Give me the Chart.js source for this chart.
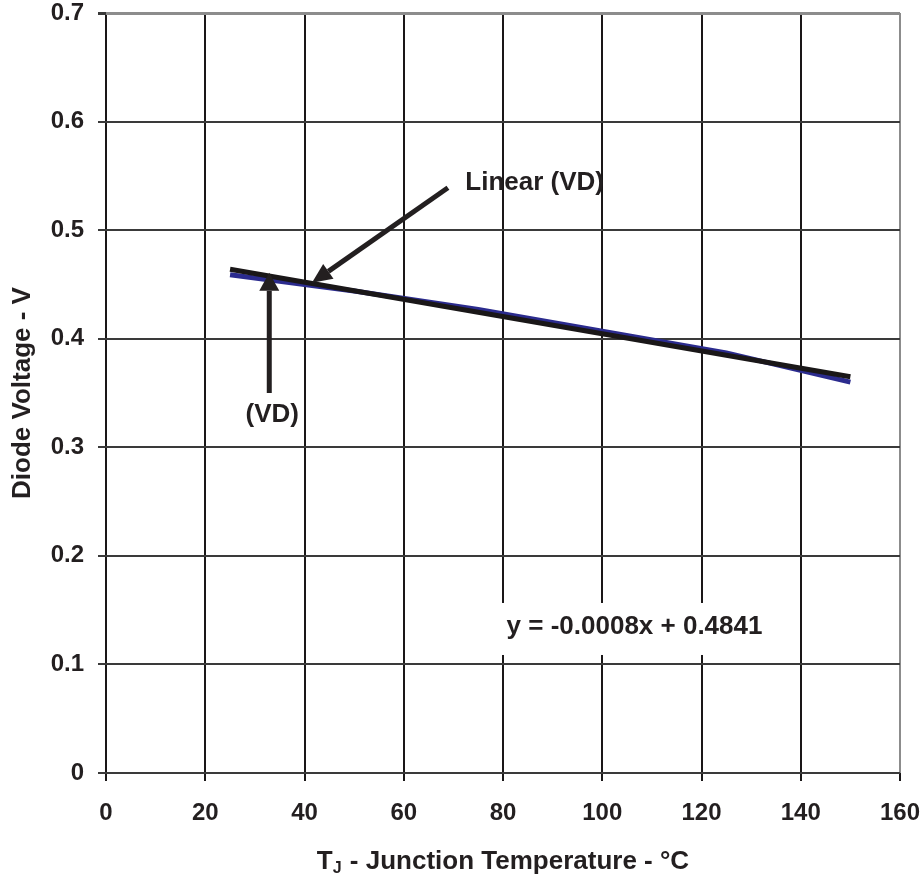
<!DOCTYPE html>
<html>
<head>
<meta charset="utf-8">
<script src="https://cdn.jsdelivr.net/npm/chart.js@4"></script>
<style>
  html, body { margin: 0; padding: 0; background: #fff; }
  #wrap { width: 924px; height: 877px; position: relative; }
</style>
</head>
<body>
<div id="wrap"><canvas id="c" width="924" height="877"></canvas></div>
<script>
// ---- data ----
const temps = [25, 50, 75, 100, 125, 150];
const vdValues = [0.459, 0.444, 0.427, 0.407, 0.387, 0.360];
const linearX = [25, 150];
const linearY = [0.464, 0.365];
const xTickValues = [0, 20, 40, 60, 80, 100, 120, 140, 160];
const yTickLabels = ['0', '0.1', '0.2', '0.3', '0.4', '0.5', '0.6', '0.7'];
const xTitleMain = 'T';
const xTitleSub = 'J';
const xTitleRest = ' - Junction Temperature - °C';
const yTitle = 'Diode Voltage - V';
const equationText = 'y = -0.0008x + 0.4841';
const linearLabel = 'Linear (VD)';
const vdLabel = '(VD)';

// ---- annotation placement (data coordinates) ----
const annot = {
  linArrow: { from: [68.9, 0.539], to: [41.5, 0.4515] },
  linText: [72.4, 0.5436],
  vdArrow: { from: [32.9, 0.350], to: [32.9, 0.4607] },
  vdText: [33.5, 0.330],
  eqText: [106.5, 0.1345],
  eqBox: { x0: 79.0, x1: 133.9, y0: 0.1566, y1: 0.1087 }
};

const TEXT = '#231f20';
const FONT = '"Liberation Sans", Arial, Helvetica, sans-serif';

function toXY(ds, ys) { return ds.map((d, i) => ({ x: d, y: ys[i] })); }

function drawArrow(ctx, x1, y1, x2, y2, headLen, headW, lw) {
  const ang = Math.atan2(y2 - y1, x2 - x1);
  const bx = x2 - headLen * Math.cos(ang), by = y2 - headLen * Math.sin(ang);
  ctx.save();
  ctx.strokeStyle = TEXT; ctx.fillStyle = TEXT; ctx.lineWidth = lw; ctx.lineCap = 'butt';
  ctx.beginPath(); ctx.moveTo(x1, y1); ctx.lineTo(bx, by); ctx.stroke();
  ctx.beginPath();
  ctx.moveTo(x2, y2);
  ctx.lineTo(bx + headW / 2 * Math.sin(ang), by - headW / 2 * Math.cos(ang));
  ctx.lineTo(bx - headW / 2 * Math.sin(ang), by + headW / 2 * Math.cos(ang));
  ctx.closePath(); ctx.fill();
  ctx.restore();
}

const annotPlugin = {
  id: 'annot',
  afterDraw(chart) {
    const ctx = chart.ctx;
    const xs = chart.scales.x, ys = chart.scales.y;
    const px = v => xs.getPixelForValue(v), py = v => ys.getPixelForValue(v);
    ctx.save();
    // equation box
    const b = annot.eqBox;
    ctx.fillStyle = '#fff';
    ctx.fillRect(px(b.x0), py(b.y0), px(b.x1) - px(b.x0), py(b.y1) - py(b.y0));
    ctx.fillStyle = TEXT;
    ctx.font = 'bold 26px ' + FONT;
    ctx.textAlign = 'center'; ctx.textBaseline = 'middle';
    ctx.fillText(equationText, px(annot.eqText[0]), py(annot.eqText[1]));
    // arrows
    drawArrow(ctx, px(annot.linArrow.from[0]), py(annot.linArrow.from[1]),
      px(annot.linArrow.to[0]), py(annot.linArrow.to[1]), 20, 18, 5);
    drawArrow(ctx, px(annot.vdArrow.from[0]), py(annot.vdArrow.from[1]),
      px(annot.vdArrow.to[0]), py(annot.vdArrow.to[1]), 18, 20, 5);
    ctx.textAlign = 'left';
    ctx.fillText(linearLabel, px(annot.linText[0]), py(annot.linText[1]));
    ctx.textAlign = 'center';
    ctx.fillText(vdLabel, px(annot.vdText[0]), py(annot.vdText[1]));
    // y title
    ctx.save();
    ctx.translate(23, (chart.chartArea.top + chart.chartArea.bottom) / 2);
    ctx.rotate(-Math.PI / 2);
    ctx.font = 'bold 26px ' + FONT;
    ctx.textAlign = 'center'; ctx.textBaseline = 'middle';
    ctx.fillText(yTitle, 0, 0);
    ctx.restore();
    // x title with subscript
    const mainF = 'bold 26px ' + FONT, subF = 'bold 16px ' + FONT;
    ctx.font = mainF; const w1 = ctx.measureText(xTitleMain).width;
    const w3 = ctx.measureText(xTitleRest).width;
    ctx.font = subF; const w2 = ctx.measureText(xTitleSub).width + 1;
    const total = w1 + w2 + w3;
    const cx = (chart.chartArea.left + chart.chartArea.right) / 2;
    let x0 = cx - total / 2;
    const base = 869;
    ctx.textAlign = 'left'; ctx.textBaseline = 'alphabetic';
    ctx.font = mainF; ctx.fillText(xTitleMain, x0, base);
    ctx.font = subF; ctx.fillText(xTitleSub, x0 + w1, base + 4);
    ctx.font = mainF; ctx.fillText(xTitleRest, x0 + w1 + w2, base);
    ctx.restore();
  }
};

new Chart(document.getElementById('c'), {
  type: 'scatter',
  data: {
    datasets: [
      {
        label: 'VD',
        data: toXY(temps, vdValues),
        showLine: true,
        borderColor: '#2b2b8e',
        backgroundColor: '#2b2b8e',
        borderWidth: 5,
        pointRadius: 0,
        tension: 0,
        order: 2
      },
      {
        label: 'Linear (VD)',
        data: toXY(linearX, linearY),
        showLine: true,
        borderColor: '#1a1718',
        backgroundColor: '#1a1718',
        borderWidth: 5,
        pointRadius: 0,
        order: 1
      }
    ]
  },
  options: {
    responsive: false,
    animation: false,
    devicePixelRatio: 1,
    layout: { padding: { top: 13, right: 24, left: 0, bottom: 0 } },
    plugins: { legend: { display: false }, tooltip: { enabled: false }, title: { display: false } },
    scales: {
      x: {
        type: 'linear', min: 0, max: 160,
        afterFit(s) { s.height = 104; s.paddingLeft = 0; s.paddingRight = 0; },
        afterBuildTicks(s) { s.ticks = xTickValues.map(v => ({ value: v })); },
        border: { display: false },
        grid: {
          color: c => (c.tick && c.tick.value === 160) ? '#8c8c8c' : '#1a1718',
          tickColor: '#1a1718',
          lineWidth: 2, tickLength: 8, drawTicks: true
        },
        ticks: {
          color: TEXT, padding: 18, maxRotation: 0,
          font: { family: FONT, size: 24, weight: 'bold' },
          callback: v => String(v)
        }
      },
      y: {
        type: 'linear', min: 0, max: 0.7,
        afterFit(s) { s.width = 106; s.paddingTop = 0; s.paddingBottom = 0; },
        afterBuildTicks(s) { s.ticks = yTickLabels.map((t, i) => ({ value: i / 10 })); },
        border: { display: false },
        grid: {
          color: c => {
            const i = c.index;
            if (i === yTickLabels.length - 1) return '#8c8c8c';
            return '#3a3a3a';
          },
          lineWidth: c => (c.index === yTickLabels.length - 1 ? 3 : 2),
          tickColor: '#3a3a3a',
          tickLength: 8, drawTicks: true
        },
        ticks: {
          color: TEXT, padding: 14,
          font: { family: FONT, size: 24, weight: 'bold' },
          callback: (v, i) => yTickLabels[i]
        }
      }
    }
  },
  plugins: [annotPlugin]
});
</script>
</body>
</html>
